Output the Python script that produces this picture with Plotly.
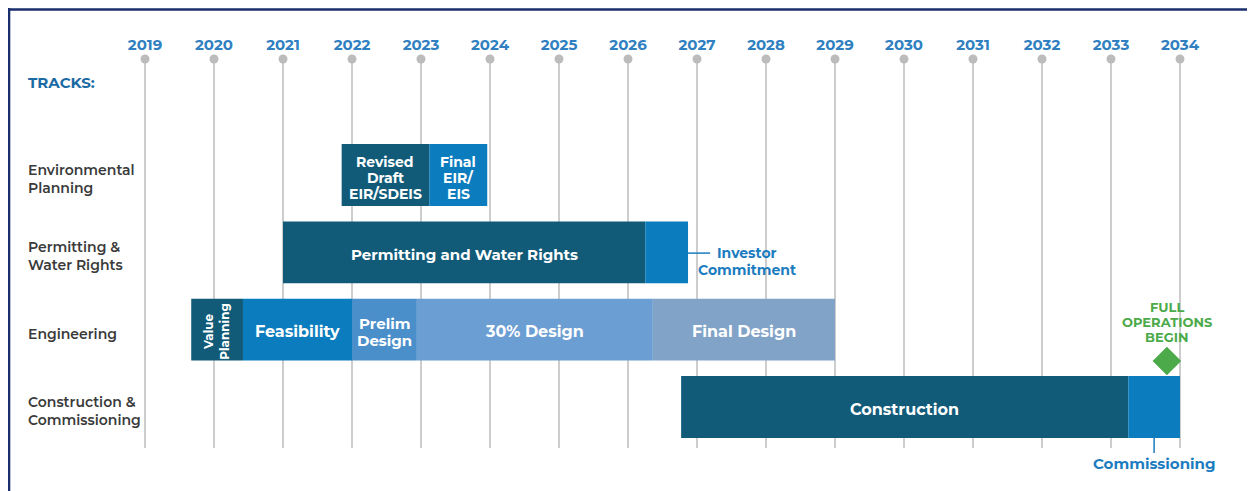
import plotly.graph_objects as go

# ---------------- data ----------------
years = list(range(2019, 2035))
tracks = ["Environmental<br>Planning", "Permitting &<br>Water Rights",
          "Engineering", "Construction &<br>Commissioning"]

phase_labels = ["Revised<br>Draft<br>EIR/SDEIS", "Final<br>EIR/<br>EIS",
                "Permitting and Water Rights", "",
                "Value<br>Planning", "Feasibility", "Prelim<br>Design",
                "30% Design", "Final Design",
                "Construction", ""]
phase_track = [0, 0, 1, 1, 2, 2, 2, 2, 2, 3, 3]
phase_start = [2021.85, 2023.12, 2021.0, 2026.25, 2019.67, 2020.42, 2022.0,
               2022.94, 2026.36, 2026.77, 2033.25]
phase_end = [2023.12, 2023.96, 2026.25, 2026.87, 2020.42, 2022.0, 2022.94,
             2026.36, 2029.0, 2033.25, 2034.0]
phase_colors = ["#115b79", "#0b7cbd", "#115b79", "#0b7cbd", "#115b79",
                "#0b7cbd", "#4a8fca", "#6b9ed2", "#81a3c7", "#115b79",
                "#0b7cbd"]
phase_fontsize = [14, 14, 15, 15, 12, 16, 15, 16, 16, 16, 15]
phase_angle = [0, 0, 0, 0, -90, 0, 0, 0, 0, 0, 0]

milestone_investor = 2026.87      # end of permitting
milestone_investor_label = 2027.72
milestone_commission = 2033.625   # centre of commissioning phase
milestone_full_ops = 2033.81

FONT = "Montserrat, 'Open Sans', sans-serif"
BLUE_TXT = "#1c7cc0"
GREEN = "#4caa4a"
W, H = 1247, 483   # page body has an 8px margin
PX = 1 / 77.33     # y-units per pixel

fig = go.Figure()

# bars
for lab, t, s, e, c in zip(phase_labels, phase_track, phase_start, phase_end, phase_colors):
    fig.add_trace(go.Bar(
        y=[t], x=[e - s], base=[s], orientation="h", width=0.8,
        marker=dict(color=c, line=dict(width=0)), showlegend=False,
        hoverinfo="skip"))

# bar labels
for lab, t, s, e, fs, ang in zip(phase_labels, phase_track, phase_start, phase_end,
                                  phase_fontsize, phase_angle):
    if not lab:
        continue
    lines = lab.split("<br>")
    if ang != 0 or len(lines) == 1:
        fig.add_annotation(x=(s + e) / 2, y=t + 2 * PX, xref="x", yref="y",
                           text="<b>" + lab + "</b>",
                           showarrow=False, textangle=ang,
                           font=dict(family=FONT, size=fs, color="white"),
                           xanchor="center", yanchor="middle")
    else:
        step = (fs + 2) * PX
        for j, ln in enumerate(lines):
            fig.add_annotation(x=(s + e) / 2,
                               y=t + 2.5 * PX + (j - (len(lines) - 1) / 2) * step,
                               xref="x", yref="y", text="<b>" + ln + "</b>",
                               showarrow=False,
                               font=dict(family=FONT, size=fs, color="white"),
                               xanchor="center", yanchor="middle")

# year dots
fig.add_trace(go.Scatter(x=years, y=[-1.5] * len(years), mode="markers",
                         marker=dict(size=9, color="#bcbcbc"), cliponaxis=False,
                         showlegend=False, hoverinfo="skip"))

# full operations diamond
fig.add_trace(go.Scatter(x=[milestone_full_ops], y=[2.405], mode="markers",
                         marker=dict(symbol="diamond", size=22, color=GREEN),
                         cliponaxis=False, showlegend=False, hoverinfo="skip"))
for k, word in enumerate(["FULL", "OPERATIONS", "BEGIN"]):
    fig.add_annotation(x=milestone_full_ops, y=1.71 + k * 0.195, xref="x", yref="y",
                       text="<b>" + word + "</b>", showarrow=False,
                       font=dict(family=FONT, size=13, color=GREEN),
                       xanchor="center", yanchor="middle")

# investor commitment callout
fig.add_shape(type="line", x0=milestone_investor, x1=milestone_investor + 0.32,
              y0=1.01, y1=1.01, xref="x", yref="y",
              line=dict(color=BLUE_TXT, width=1.5))
for k, word in enumerate(["Investor", "Commitment"]):
    fig.add_annotation(x=milestone_investor_label, y=1.01 + k * 0.215, xref="x", yref="y",
                       text="<b>" + word + "</b>", showarrow=False,
                       font=dict(family=FONT, size=14, color=BLUE_TXT),
                       xanchor="center", yanchor="middle")

# commissioning callout (arrow without head)
fig.add_annotation(x=milestone_commission, y=3.4, xref="x", yref="y",
                   text="<b>Commissioning</b>", showarrow=True, arrowhead=0,
                   arrowwidth=1.5, arrowcolor=BLUE_TXT, ax=0, ay=26, standoff=0,
                   font=dict(family=FONT, size=15, color=BLUE_TXT))

# track labels
for i, t in enumerate(tracks):
    fig.add_annotation(x=18 / W, y=i + 4 * PX, xref="paper", yref="y", text=t,
                       showarrow=False, align="left", xanchor="left", yanchor="middle",
                       font=dict(family=FONT, size=14, color="#3a3a3a", weight=600))
fig.add_annotation(x=18 / W, y=-1.19, xref="paper", yref="y", text="<b>TRACKS:</b>",
                   showarrow=False, xanchor="left", yanchor="middle",
                   font=dict(family=FONT, size=15, color="#1b6aa3"))

# frame
fig.add_shape(type="line", xref="paper", yref="paper", x0=0, x1=1.0,
              y0=1.1272, y1=1.1272, line=dict(color="#1a2e6e", width=2.5))
fig.add_shape(type="line", xref="paper", yref="paper", x0=0.8 / W, x1=0.8 / W,
              y0=1.131, y1=-0.2, line=dict(color="#1a2e6e", width=3))

fig.update_layout(
    width=W, height=H,
    margin=dict(l=0, r=0, t=51, b=43),
    paper_bgcolor="white", plot_bgcolor="white",
    barmode="overlay",
    xaxis=dict(range=[2017.0145, 2035.087], side="top", tickvals=years,
               ticktext=[str(y) for y in years], showgrid=True,
               gridcolor="#cdcdcd", gridwidth=1.5, zeroline=False, showline=False,
               ticks="", fixedrange=True, ticklabelstandoff=5,
               tickfont=dict(family=FONT, size=15, color="#2f7fc1", weight=700)),
    yaxis=dict(range=[3.53, -1.5], visible=False, fixedrange=True),
    showlegend=False,
)

fig.write_html("out.html")
